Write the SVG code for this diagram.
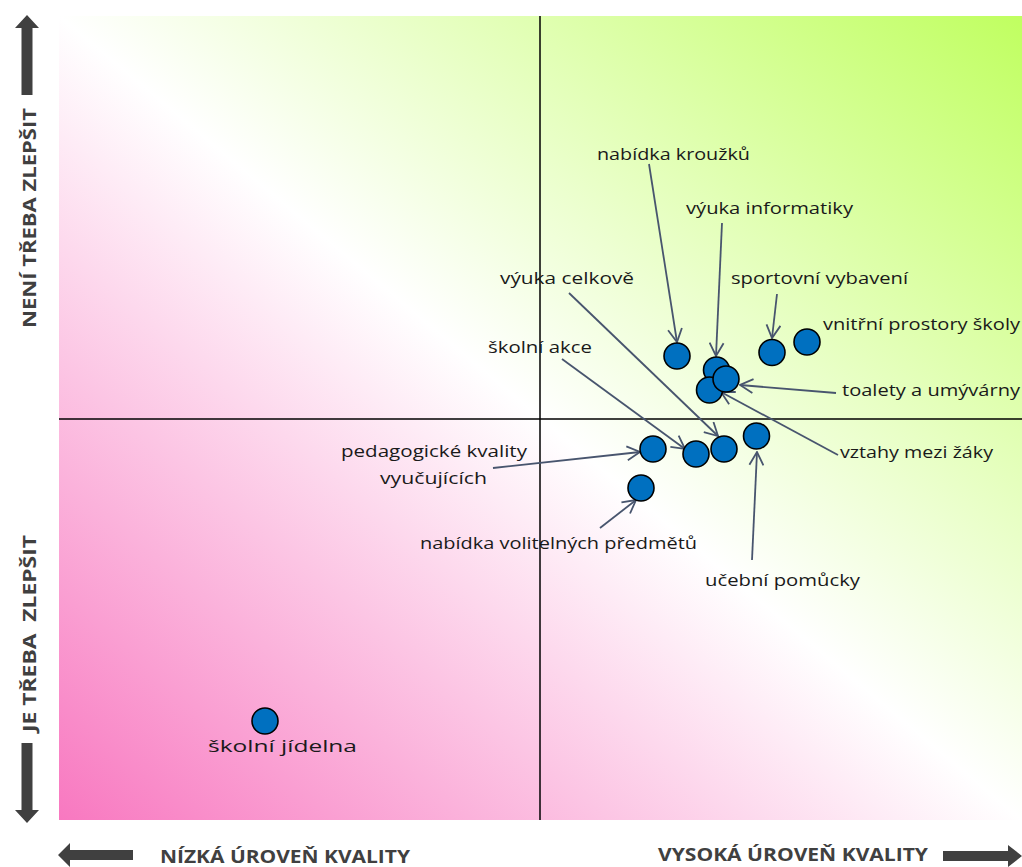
<svg xmlns="http://www.w3.org/2000/svg" width="1022" height="867" viewBox="0 0 1022 867">
<defs>
<linearGradient id="bg" x1="0" y1="1" x2="1" y2="0">
<stop offset="0" stop-color="#f878c0"/>
<stop offset="0.5" stop-color="#ffffff"/>
<stop offset="1" stop-color="#c0ff60"/>
</linearGradient>
<marker id="ah" viewBox="0 0 16 16" refX="15" refY="8" markerWidth="16" markerHeight="16" markerUnits="userSpaceOnUse" orient="auto">
<path d="M2,1 L15,8 L2,15" fill="none" stroke="#48556e" stroke-width="1.8"/>
</marker>
<style>
.lbl{font-family:"Open Sans","Noto Sans",sans-serif;font-size:17px;fill:#1a1a1a}
.ax{font-family:"Open Sans","Noto Sans",sans-serif;font-size:18px;font-weight:bold;fill:#404040}
.con{stroke:#48556e;stroke-width:1.8;fill:none;marker-end:url(#ah)}
.pt{fill:#0070c0;stroke:#000;stroke-width:1.6}
.axl{stroke:#000;stroke-width:1.5}
.big{fill:#404040}
</style>
</defs>
<rect x="59" y="16" width="963" height="804" fill="url(#bg)"/>
<g id="axes">
<line class="axl" x1="540" y1="16" x2="540" y2="820"/>
<line class="axl" x1="59" y1="419" x2="1022" y2="419"/>
</g>
<g id="axis-arrows">
<polygon class="big" points="27,15 39,28 32.5,28 32.5,95 21.5,95 21.5,28 15,28"/>
<polygon class="big" points="27,823 39,810 32.5,810 32.5,743 21.5,743 21.5,810 15,810"/>
<polygon class="big" points="58,855 70,843 70,850 133,850 133,860 70,860 70,867"/>
<polygon class="big" points="1022,856 1008,845 1008,851 943,851 943,861 1008,861 1008,867"/>
</g>
<g id="axis-labels">
<text class="ax" transform="translate(36,218) rotate(-90)" text-anchor="middle" textLength="220" lengthAdjust="spacingAndGlyphs">NENÍ TŘEBA ZLEPŠIT</text>
<text class="ax" transform="translate(36,633.5) rotate(-90)" text-anchor="middle" textLength="197" lengthAdjust="spacingAndGlyphs" xml:space="preserve">JE TŘEBA  ZLEPŠIT</text>
<text class="ax" x="160" y="863" textLength="250" lengthAdjust="spacingAndGlyphs">NÍZKÁ ÚROVEŇ KVALITY</text>
<text class="ax" x="658" y="861" textLength="270" lengthAdjust="spacingAndGlyphs">VYSOKÁ ÚROVEŇ KVALITY</text>
</g>
<g id="connectors">
<line class="con" x1="649" y1="164" x2="677" y2="342"/>
<line class="con" x1="722" y1="223" x2="716" y2="356"/>
<line class="con" x1="777" y1="294" x2="772" y2="338"/>
<line class="con" x1="836" y1="393" x2="740" y2="385"/>
<line class="con" x1="838" y1="455" x2="721" y2="392"/>
<line class="con" x1="569" y1="293" x2="718" y2="436"/>
<line class="con" x1="562" y1="359" x2="685" y2="449"/>
<line class="con" x1="493" y1="468" x2="640" y2="452"/>
<line class="con" x1="600" y1="528" x2="636" y2="500"/>
<line class="con" x1="752" y1="560" x2="757" y2="452"/>
</g>
<g id="n-krouzky"><circle class="pt" cx="677" cy="356" r="13"/><text class="lbl" x="597" y="160" textLength="153" lengthAdjust="spacingAndGlyphs">nabídka kroužků</text></g>
<g id="n-informatika"><circle class="pt" cx="716.5" cy="370" r="13"/><text class="lbl" x="686" y="214" textLength="167" lengthAdjust="spacingAndGlyphs">výuka informatiky</text></g>
<g id="n-vztahy"><circle class="pt" cx="709.5" cy="390" r="13"/><text class="lbl" x="840" y="458" textLength="153" lengthAdjust="spacingAndGlyphs">vztahy mezi žáky</text></g>
<g id="n-toalety"><circle class="pt" cx="726" cy="379" r="13"/><text class="lbl" x="842" y="396" textLength="178" lengthAdjust="spacingAndGlyphs">toalety a umývárny</text></g>
<g id="n-sport"><circle class="pt" cx="772" cy="352.5" r="13"/><text class="lbl" x="731" y="284" textLength="177" lengthAdjust="spacingAndGlyphs">sportovní vybavení</text></g>
<g id="n-prostory"><circle class="pt" cx="807" cy="342" r="13"/><text class="lbl" x="823" y="330" textLength="197" lengthAdjust="spacingAndGlyphs">vnitřní prostory školy</text></g>
<g id="n-pedagog"><circle class="pt" cx="653" cy="449" r="13"/><text class="lbl" x="341" y="457" textLength="186" lengthAdjust="spacingAndGlyphs">pedagogické kvality</text><text class="lbl" x="380" y="484" textLength="107" lengthAdjust="spacingAndGlyphs">vyučujících</text></g>
<g id="n-akce"><circle class="pt" cx="696" cy="454" r="13"/><text class="lbl" x="488" y="353" textLength="104" lengthAdjust="spacingAndGlyphs">školní akce</text></g>
<g id="n-celkove"><circle class="pt" cx="724" cy="449" r="13"/><text class="lbl" x="500" y="284" textLength="134" lengthAdjust="spacingAndGlyphs">výuka celkově</text></g>
<g id="n-pomucky"><circle class="pt" cx="756.5" cy="436" r="13"/><text class="lbl" x="705" y="586" textLength="155" lengthAdjust="spacingAndGlyphs">učební pomůcky</text></g>
<g id="n-volitelne"><circle class="pt" cx="641" cy="488" r="13"/><text class="lbl" x="420" y="549" textLength="277" lengthAdjust="spacingAndGlyphs">nabídka volitelných předmětů</text></g>
<g id="n-jidelna"><circle class="pt" cx="265" cy="721" r="13"/><text class="lbl" x="208" y="752" textLength="149" lengthAdjust="spacingAndGlyphs">školní jídelna</text></g>
</svg>
